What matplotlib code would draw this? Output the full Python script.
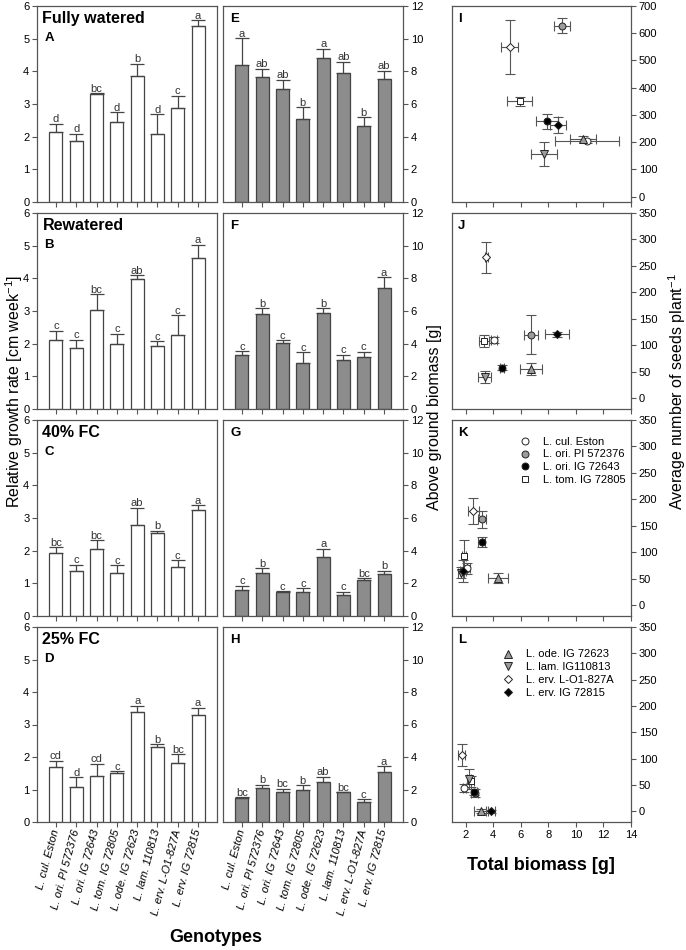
import matplotlib
matplotlib.use('Agg')
import matplotlib.pyplot as plt
from matplotlib.lines import Line2D
import numpy as np

plt.rcParams['font.family'] = ['Liberation Sans', 'DejaVu Sans']
plt.rcParams['mathtext.default'] = 'regular'

# ---------------- data ----------------
genotypes = ["L. cul. Eston", "L. ori. PI 572376", "L. ori. IG 72643", "L. tom. IG 72805",
             "L. ode. IG 72623", "L. lam. 110813", "L. erv. L-O1-827A", "L. erv. IG 72815"]
treatments = ["Fully watered", "Rewatered", "40% FC", "25% FC"]

# Relative growth rate [cm week-1]
rgr_fw = [2.15, 1.87, 3.30, 2.44, 3.87, 2.09, 2.87, 5.39]
rgr_fw_se = [0.25, 0.22, 0.04, 0.31, 0.36, 0.60, 0.39, 0.18]
rgr_fw_let = ["d", "d", "bc", "d", "b", "d", "c", "a"]
rgr_rw = [2.10, 1.87, 3.04, 1.98, 3.98, 1.92, 2.26, 4.62]
rgr_rw_se = [0.30, 0.25, 0.48, 0.33, 0.12, 0.15, 0.61, 0.41]
rgr_rw_let = ["c", "c", "bc", "c", "ab", "c", "c", "a"]
rgr_40 = [1.94, 1.37, 2.05, 1.33, 2.80, 2.53, 1.49, 3.25]
rgr_40_se = [0.17, 0.20, 0.27, 0.22, 0.52, 0.08, 0.21, 0.15]
rgr_40_let = ["bc", "c", "bc", "c", "ab", "b", "c", "a"]
rgr_25 = [1.68, 1.07, 1.42, 1.52, 3.38, 2.30, 1.82, 3.28]
rgr_25_se = [0.21, 0.31, 0.38, 0.05, 0.20, 0.09, 0.26, 0.24]
rgr_25_let = ["cd", "d", "cd", "c", "a", "b", "bc", "a"]

# Above ground biomass [g]
agb_fw = [8.40, 7.67, 6.89, 5.10, 8.83, 7.90, 4.66, 7.56]
agb_fw_se = [1.62, 0.49, 0.59, 0.71, 0.55, 0.70, 0.54, 0.49]
agb_fw_let = ["a", "ab", "ab", "b", "a", "ab", "b", "ab"]
agb_rw = [3.33, 5.79, 4.03, 2.80, 5.89, 2.99, 3.19, 7.40]
agb_rw_se = [0.21, 0.37, 0.17, 0.68, 0.27, 0.34, 0.31, 0.66]
agb_rw_let = ["c", "b", "c", "c", "b", "c", "c", "a"]
agb_40 = [1.57, 2.64, 1.49, 1.45, 3.60, 1.31, 2.19, 2.60]
agb_40_se = [0.29, 0.28, 0.04, 0.25, 0.51, 0.18, 0.12, 0.18]
agb_40_let = ["c", "b", "c", "c", "a", "c", "bc", "b"]
agb_25 = [1.47, 2.09, 1.84, 1.94, 2.49, 1.82, 1.25, 3.07]
agb_25_se = [0.06, 0.20, 0.20, 0.33, 0.31, 0.02, 0.16, 0.35]
agb_25_let = ["bc", "b", "bc", "b", "ab", "bc", "c", "a"]

# Total biomass [g] (x) vs average number of seeds per plant (y)
tb_fw = [10.8, 8.99, 7.90, 5.93, 10.5, 7.69, 5.18, 8.70]
tb_fw_se = [2.3, 0.58, 0.80, 0.90, 0.93, 0.96, 0.64, 0.60]
seeds_fw = [205, 628, 277, 350, 213, 155, 549, 263]
seeds_fw_se = [8, 27, 28, 16, 8, 44, 100, 29]

tb_rw = [4.05, 6.75, 4.60, 3.33, 6.75, 3.37, 3.49, 8.63]
tb_rw_se = [0.20, 0.50, 0.15, 0.36, 0.82, 0.45, 0.10, 0.90]
seeds_rw = [110, 120, 58, 108, 55, 41, 266, 121]
seeds_rw_se = [6, 37, 5, 11, 11, 11, 30, 5]

tb_40 = [2.10, 3.16, 3.16, 1.88, 4.36, 1.65, 2.55, 1.80]
tb_40_se = [0.20, 0.30, 0.25, 0.15, 0.73, 0.20, 0.38, 0.20]
seeds_40 = [70, 163, 120, 94, 52, 62, 178, 65]
seeds_40_se = [10, 16, 10, 30, 10, 10, 25, 20]

tb_25 = [1.90, 2.65, 2.60, 2.40, 3.13, 2.24, 1.70, 3.80]
tb_25_se = [0.10, 0.25, 0.20, 0.20, 0.50, 0.15, 0.25, 0.30]
seeds_25 = [45, 35, 37, 57, 1, 62, 107, 0]
seeds_25_se = [8, 8, 5, 10, 3, 19, 21, 3]

# ---------------- styles ----------------
GRAYFILL = '#9c9c9c'
markers = ['o', 'o', 'o', 's', '^', 'v', 'D', 'D']
mfaces = ['white', GRAYFILL, 'black', 'white', GRAYFILL, GRAYFILL, 'white', 'black']
msizes = [5, 5, 5, 4.6, 5.2, 5.2, 4.4, 4.4]
SPINE = '#555555'
BAREDGE = '#444444'

W, H = 686, 950
fig = plt.figure(figsize=(W / 100, H / 100), dpi=100)


def ax_at(x0, y0, x1, y1):
    return fig.add_axes([x0 / W, 1 - y1 / H, (x1 - x0) / W, (y1 - y0) / H])


def style(ax):
    for s in ax.spines.values():
        s.set_color(SPINE)
        s.set_linewidth(0.9)
    ax.tick_params(direction='out', length=3.5, width=0.8, color=SPINE,
                   labelsize=8, pad=2)


rows = [(6, 202), (213, 409), (420, 616), (627, 822)]
rgr_sets = [(rgr_fw, rgr_fw_se, rgr_fw_let), (rgr_rw, rgr_rw_se, rgr_rw_let),
            (rgr_40, rgr_40_se, rgr_40_let), (rgr_25, rgr_25_se, rgr_25_let)]
agb_sets = [(agb_fw, agb_fw_se, agb_fw_let), (agb_rw, agb_rw_se, agb_rw_let),
            (agb_40, agb_40_se, agb_40_let), (agb_25, agb_25_se, agb_25_let)]
sc_sets = [(tb_fw, tb_fw_se, seeds_fw, seeds_fw_se), (tb_rw, tb_rw_se, seeds_rw, seeds_rw_se),
           (tb_40, tb_40_se, seeds_40, seeds_40_se), (tb_25, tb_25_se, seeds_25, seeds_25_se)]
letters_col1 = ['A', 'B', 'C', 'D']
letters_col2 = ['E', 'F', 'G', 'H']
letters_col3 = ['I', 'J', 'K', 'L']

xpos = np.arange(len(genotypes))


def bar_panel(ax, vals, se, lets, fill, ymax):
    vals = np.array(vals)
    se = np.array(se)
    ax.bar(xpos, vals, width=0.64, color=fill, edgecolor=BAREDGE, linewidth=0.9, zorder=2)
    ax.errorbar(xpos, vals, yerr=[np.zeros_like(se), se], fmt='none', ecolor=BAREDGE,
                elinewidth=0.9, capsize=5, capthick=0.9, zorder=3)
    for xi, v, s, l in zip(xpos, vals, se, lets):
        ax.annotate(l, (xi, v + s), xytext=(0, 1.0), textcoords='offset points',
                    ha='center', va='baseline', fontsize=8, color='#333333')
    ax.set_xlim(-0.93, 7.93)
    ax.set_ylim(0, ymax)
    ax.set_xticks(xpos)
    style(ax)


for r, (top, bot) in enumerate(rows):
    # column 1: relative growth rate
    ax1 = ax_at(37, top, 217, bot)
    v, s, l = rgr_sets[r]
    bar_panel(ax1, v, s, l, 'white', 6)
    ax1.set_yticks(range(0, 7))
    ax1.text(0.03, 0.975, treatments[r], transform=ax1.transAxes, ha='left', va='top',
             fontsize=11.5, fontweight='bold')
    ax1.text(0.04, 0.865, letters_col1[r], transform=ax1.transAxes, ha='left', va='top',
             fontsize=9.5, fontweight='bold')

    # column 2: above-ground biomass
    ax2 = ax_at(223, top, 403, bot)
    v, s, l = agb_sets[r]
    bar_panel(ax2, v, s, l, '#8c8c8c', 12)
    ax2.set_yticks(range(0, 13, 2))
    ax2.yaxis.tick_right()
    ax2.text(0.04, 0.965, letters_col2[r], transform=ax2.transAxes, ha='left', va='top',
             fontsize=9.5, fontweight='bold')

    if r == 3:
        for ax in (ax1, ax2):
            ax.set_xticklabels(genotypes, rotation=75, ha='right', va='center',
                               rotation_mode='anchor', fontsize=8, fontstyle='italic')
    else:
        ax1.set_xticklabels([])
        ax2.set_xticklabels([])

    # column 3: seeds vs total biomass
    ax3 = ax_at(452, top, 631, bot)
    tx, txe, sy, sye = sc_sets[r]
    for i in range(len(genotypes)):
        ax3.errorbar(tx[i], sy[i], xerr=txe[i], yerr=sye[i], fmt='none', ecolor='#555555',
                     elinewidth=0.8, capsize=3.5, capthick=0.8, zorder=2)
    for i in range(len(genotypes)):
        ax3.plot(tx[i], sy[i], marker=markers[i], ms=msizes[i], mfc=mfaces[i],
                 mec='#222222', mew=0.7, ls='none', zorder=3)
    ax3.set_xlim(1.0, 14)
    ax3.set_xticks(range(2, 15, 2))
    if r == 0:
        ax3.set_ylim(-20, 700)
        ax3.set_yticks(range(0, 701, 100))
    else:
        ax3.set_ylim(-20, 350)
        ax3.set_yticks(range(0, 351, 50))
    ax3.yaxis.tick_right()
    style(ax3)
    ax3.text(0.035, 0.965, letters_col3[r], transform=ax3.transAxes, ha='left', va='top',
             fontsize=9.5, fontweight='bold')
    if r != 3:
        ax3.set_xticklabels([])
    if r in (2, 3):
        idx = [0, 1, 2, 3] if r == 2 else [4, 5, 6, 7]
        handles = [Line2D([], [], marker=markers[i], ms=msizes[i], mfc=mfaces[i],
                          mec='#222222', mew=0.7, ls='none') for i in idx]
        labs = [genotypes[i].replace("L. lam. 110813", "L. lam. IG110813") for i in idx]
        anchor = (0.377, 0.915) if r == 2 else (0.282, 0.885)
        ax3.legend(handles, labs, loc='upper left', bbox_to_anchor=anchor, frameon=False,
                   fontsize=8, handlelength=1.0, handletextpad=1.1, borderpad=0,
                   borderaxespad=0, labelspacing=0.25)

# axis titles
fig.text(14 / W, 1 - 391 / H, 'Relative growth rate [cm week$^{-1}$]', rotation=90,
         ha='center', va='center', fontsize=11.5)
fig.text(434 / W, 1 - 417 / H, 'Above ground biomass [g]', rotation=90,
         ha='center', va='center', fontsize=11.5)
fig.text(677 / W, 1 - 392 / H, 'Average number of seeds plant$^{-1}$', rotation=90,
         ha='center', va='center', fontsize=11.5)
fig.text(216 / W, 1 - 937 / H, 'Genotypes', ha='center', va='center',
         fontsize=13, fontweight='bold')
fig.text(541 / W, 1 - 866 / H, 'Total biomass [g]', ha='center', va='center',
         fontsize=13, fontweight='bold')

fig.savefig('out.png', dpi=100)
